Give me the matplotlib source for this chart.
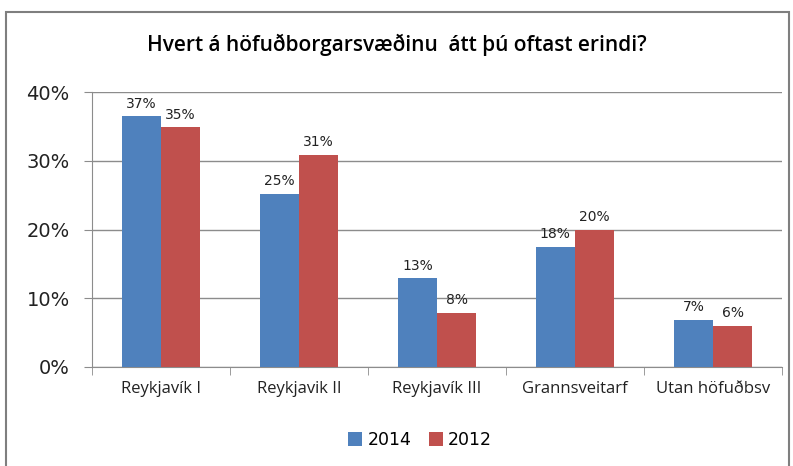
import matplotlib.pyplot as plt
import numpy as np
from matplotlib.patches import Rectangle

categories = ["Reykjavík I", "Reykjavik II", "Reykjavík III", "Grannsveitarf", "Utan höfuðbsv"]
v2014 = [36.5, 25.2, 12.9, 17.5, 6.9]
v2012 = [34.9, 30.9, 7.9, 20.0, 6.0]
lab2014 = ["37%", "25%", "13%", "18%", "7%"]
lab2012 = ["35%", "31%", "8%", "20%", "6%"]

blue = "#4F81BD"
red = "#C0504D"
grid = "#8C8C8C"

fig = plt.figure(figsize=(7.93, 4.66), dpi=100)
ax = fig.add_axes([92 / 793, 1 - 367 / 466, 690 / 793, 275 / 466])

x = np.arange(len(categories))
w = 0.285
ax.bar(x - w / 2, v2014, w, color=blue, label="2014", zorder=3)
ax.bar(x + w / 2, v2012, w, color=red, label="2012", zorder=3)

for xi, v, s in zip(x, v2014, lab2014):
    ax.text(xi - w / 2, v + 0.8, s, ha="center", va="bottom", fontsize=10, color="#222222")
for xi, v, s in zip(x, v2012, lab2012):
    ax.text(xi + w / 2, v + 0.8, s, ha="center", va="bottom", fontsize=10, color="#222222")

ax.set_xlim(-0.5, len(categories) - 0.5)
ax.set_ylim(0, 40)
ax.set_yticks([0, 10, 20, 30, 40])
ax.set_yticklabels(["0%", "10%", "20%", "30%", "40%"], fontsize=14, color="#222222")
ax.yaxis.grid(True, color=grid, linewidth=1, zorder=0)
ax.set_xticks(x)
ax.set_xticklabels(categories, fontsize=12, color="#222222", family="Open Sans")
ax.set_xticks(np.arange(-0.5, len(categories)), minor=True)
ax.tick_params(axis="x", which="major", length=0, pad=10)
ax.tick_params(axis="x", which="minor", length=6, color=grid)
ax.tick_params(axis="y", length=6, color=grid, pad=10)
for s in ["top", "right"]:
    ax.spines[s].set_visible(False)
for s in ["left", "bottom"]:
    ax.spines[s].set_color(grid)

fig.text(0.5, 1 - 45 / 466, "Hvert á höfuðborgarsvæðinu  átt þú oftast erindi?",
         ha="center", va="center", fontsize=15, fontweight="semibold", family="Open Sans")

fig.legend(loc="center", bbox_to_anchor=(420 / 793, 1 - 440 / 466), ncol=2, frameon=False,
           fontsize=12.5, handlelength=0.8, handleheight=0.8, columnspacing=1.0, handletextpad=0.3)

fig.patches.append(Rectangle((6 / 793, -0.1), 783 / 793, 1.1 - 12 / 466, transform=fig.transFigure,
                             fill=False, edgecolor="#7F7F7F", linewidth=1.5))

fig.savefig("out.png", dpi=100)
